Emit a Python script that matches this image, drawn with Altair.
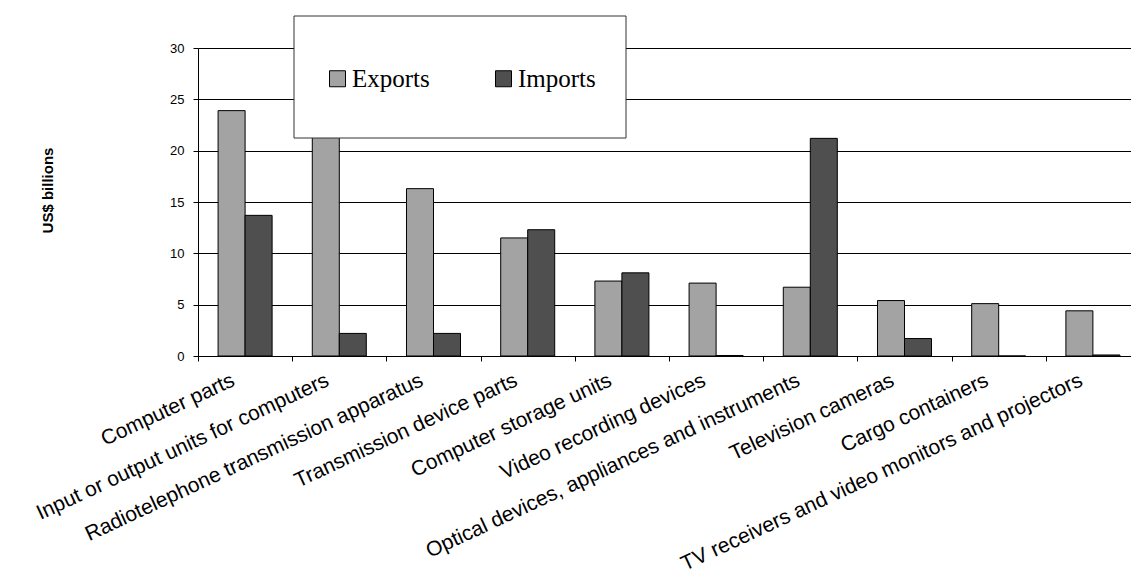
import altair as alt
import pandas as pd

categories = [
    "Computer parts",
    "Input or output units for computers",
    "Radiotelephone transmission apparatus",
    "Transmission device parts",
    "Computer storage units",
    "Video recording devices",
    "Optical devices, appliances and instruments",
    "Television cameras",
    "Cargo containers",
    "TV receivers and video monitors and projectors",
]
exports = [23.9, 26.0, 16.3, 11.5, 7.3, 7.1, 6.7, 5.4, 5.1, 4.4]
imports = [13.7, 2.2, 2.2, 12.3, 8.1, 0.05, 21.2, 1.7, 0.0, 0.1]
series = ["Exports", "Imports"]
colors = ["#A3A3A3", "#4F4F4F"]
y_ticks = [0, 5, 10, 15, 20, 25, 30]

rows = []
for c, e, i in zip(categories, exports, imports):
    rows.append({"category": c, "series": "Exports", "value": e})
    rows.append({"category": c, "series": "Imports", "value": i})
df = pd.DataFrame(rows)

bars = alt.Chart(df).mark_bar(stroke="black", strokeWidth=1, opacity=1).encode(
    x=alt.X(
        "category:N",
        sort=categories,
        scale=alt.Scale(range=[0, 942], paddingInner=0, paddingOuter=0),
        axis=alt.Axis(
            title=None,
            tickBand="extent",
            labelAngle=335,
            labelAlign="right",
            labelBaseline="middle",
            labelFont="Liberation Sans",
            labelFontSize=21,
            labelColor="black",
            labelLimit=0,
            labelPadding=18,
            labelOffset=-12,
            labelOverlap=False,
            tickSize=5,
            tickColor="black",
            domainColor="black",
            grid=False,
        ),
    ),
    xOffset=alt.XOffset(
        "series:N",
        sort=series,
        scale=alt.Scale(paddingInner=0, paddingOuter=0.744),
    ),
    y=alt.Y(
        "value:Q",
        scale=alt.Scale(domain=[0, 30], nice=False),
        axis=alt.Axis(
            title="US$ billions",
            values=y_ticks,
            grid=True,
            gridColor="black",
            gridWidth=1,
            domainColor="black",
            tickColor="black",
            tickSize=5,
            labelFont="Liberation Sans",
            labelFontSize=13,
            labelColor="black",
            labelPadding=9,
            titleFont="Liberation Sans",
            titleFontSize=15,
            titleFontWeight="bold",
            titleColor="black",
            titleAngle=270,
            titleX=-151,
            titleY=142,
            titleAlign="center",
            titleBaseline="middle",
        ),
    ),
    color=alt.Color(
        "series:N",
        sort=series,
        scale=alt.Scale(domain=series, range=colors),
        legend=alt.Legend(
            title=None,
            orient="none",
            legendX=127,
            legendY=18,
            direction="horizontal",
            padding=0,
            symbolType="square",
            symbolSize=256,
            symbolStrokeColor="black",
            symbolStrokeWidth=1,
            symbolOpacity=1,
            labelFont="Liberation Serif",
            labelFontSize=25,
            labelColor="black",
            labelOffset=2,
            columnPadding=61,
            labelLimit=0,
        ),
    ),
)

frame = alt.Chart(alt.Data(values=[{"box": 1}])).mark_rect(
    fill="white", stroke="#333333", strokeWidth=1
).encode(
    x=alt.value(96),
    x2=alt.value(428),
    y=alt.value(-32),
    y2=alt.value(90),
)

chart = alt.layer(bars, frame).properties(
    width=933,
    height=308,
    padding={"left": 198, "top": 48, "right": 0, "bottom": 220},
    autosize=alt.AutoSizeParams(type="none"),
    background="white",
).configure_view(stroke="transparent")

chart.save("out.html", embed_options={"renderer": "svg", "actions": False})
